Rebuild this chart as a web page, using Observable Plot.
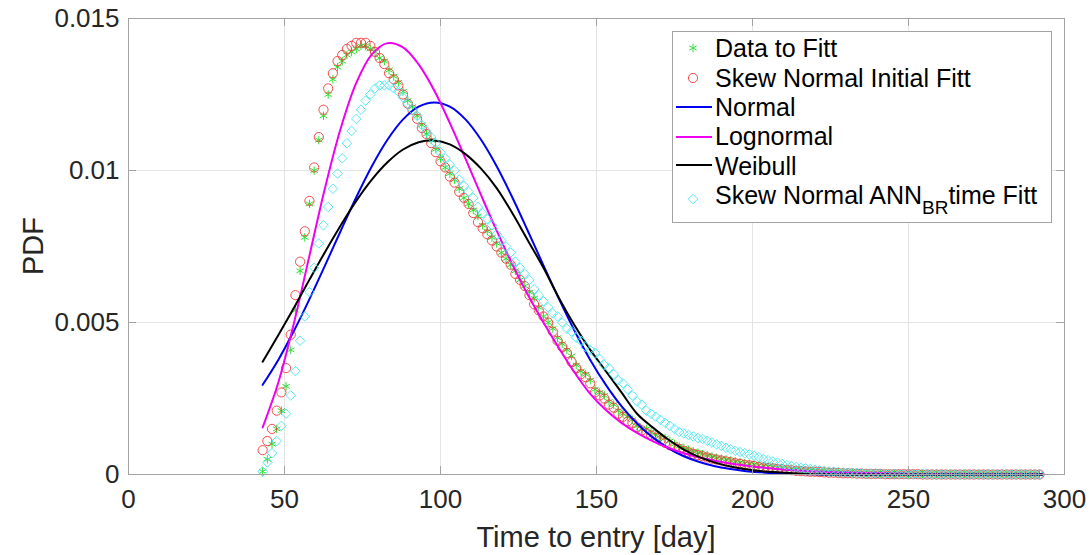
<!DOCTYPE html>
<html><head><meta charset="utf-8">
<script src="https://cdn.jsdelivr.net/npm/d3@7"></script>
<script src="https://cdn.jsdelivr.net/npm/@observablehq/plot@0.6"></script>
<style>
html,body{margin:0;padding:0;background:#fff;}
#chart svg{display:block;}
</style></head><body><div id="chart"></div>
<script>
// ---- data ----
const markerDays = [
43,44.5,46,47.5,49,50.5,52,53.5,55,56.5,
58,59.5,61,62.5,64,65.5,67,68.5,70,71.5,
73,74.5,76,77.5,79,80.5,82,83.5,85,86.5,
88,89.5,91,92.5,94,95.5,97,98.5,100,101.5,
103,104.5,106,107.5,109,110.5,112,113.5,115,116.5,
118,119.5,121,122.5,124,125.5,127,128.5,130,131.5,
133,134.5,136,137.5,139,140.5,142,143.5,145,146.5,
148,149.5,151,152.5,154,155.5,157,158.5,160,161.5,
163,164.5,166,167.5,169,170.5,172,173.5,175,176.5,
178,179.5,181,182.5,184,185.5,187,188.5,190,191.5,
193,194.5,196,197.5,199,200.5,202,203.5,205,206.5,
208,209.5,211,212.5,214,215.5,217,218.5,220,221.5,
223,224.5,226,227.5,229,230.5,232,233.5,235,236.5,
238,239.5,241,242.5,244,245.5,247,248.5,250,251.5,
253,254.5,256,257.5,259,260.5,262,263.5,265,266.5,
268,269.5,271,272.5,274,275.5,277,278.5,280,281.5,
283,284.5,286,287.5,289,290.5,292];

const dataFitt = [
0.0001,0.0005,0.0010,0.0015,0.0021,0.0029,0.0041,0.0054,0.0067,0.0078,
0.0089,0.0100,0.0110,0.0118,0.0125,0.0130,0.0134,0.0136,0.0138,0.0139,
0.0140,0.0141,0.0141,0.0140,0.0139,0.0137,0.0136,0.0133,0.0131,0.0129,
0.0126,0.0123,0.0121,0.0118,0.0115,0.0112,0.0110,0.0107,0.0104,0.0101,
0.0099,0.0097,0.0094,0.0091,0.0089,0.0087,0.0085,0.0082,0.0080,0.0078,
0.0076,0.0073,0.0071,0.0069,0.0067,0.0064,0.0062,0.0060,0.0058,0.0055,
0.0052,0.0050,0.0048,0.0045,0.0043,0.0041,0.0039,0.0036,0.0034,0.0033,
0.0031,0.0028,0.0027,0.0026,0.0024,0.0023,0.0021,0.0020,0.0019,0.0018,
0.0016,0.0015,0.0015,0.0014,0.0013,0.0012,0.0012,0.0011,0.0010,0.00093,
0.00087,0.00081,0.00076,0.00072,0.00067,0.00063,0.00059,0.00055,0.00052,0.00049,
0.00046,0.00043,0.00040,0.00037,0.00035,0.00033,0.00030,0.00028,0.00026,0.00024,
0.00022,0.00021,0.00019,0.00018,0.00016,0.00015,0.00013,0.00012,0.00011,0.00010,
0.00009,0.00008,0.00008,0.00007,0.00006,0.00005,0.00005,0.00005,0.00004,0.00004,
0.00004,0.00003,0.00003,0.00003,0.00002,0.00002,0.00002,0.00002,0.00002,0.00002,
0.00002,0.00002,0.00002,0.00002,0.00002,0.00001,0.00001,0.00001,0.00001,0.00001,
0.00001,0.00001,0.00001,0.00001,0.00001,0.00001,0.00001,0.00001,0.00001,0.00001,
0.00001,0.00001,0.00001,0.00001,0.00001,0.00001,0.00001];

const skewNormalInitial = [
0.0008,0.0011,0.0015,0.0021,0.0027,0.0035,0.0046,0.0059,0.0070,0.0080,
0.0090,0.0101,0.0111,0.0120,0.0127,0.0132,0.0136,0.0138,0.0140,0.0141,
0.0142,0.0142,0.0142,0.0141,0.0139,0.0137,0.0135,0.0132,0.0130,0.0128,
0.0125,0.0122,0.0120,0.0117,0.0114,0.0112,0.0109,0.0106,0.0103,0.0101,
0.0098,0.0096,0.0093,0.0091,0.0089,0.0086,0.0083,0.0081,0.0079,0.0077,
0.0075,0.0073,0.0071,0.0069,0.0066,0.0064,0.0062,0.0059,0.0056,0.0054,
0.0052,0.0050,0.0047,0.0044,0.0042,0.0040,0.0037,0.0035,0.0033,0.0032,
0.0030,0.0027,0.0026,0.0025,0.0023,0.0022,0.0020,0.0019,0.00175,0.0017,
0.00155,0.00145,0.00136,0.00128,0.0012,0.00112,0.00104,0.00096,0.0009,0.00084,
0.00078,0.00073,0.00068,0.00064,0.0006,0.00056,0.00052,0.00049,0.00046,0.00043,
0.0004,0.00037,0.00035,0.00032,0.0003,0.00028,0.00025,0.00023,0.00021,0.0002,
0.00018,0.00017,0.00015,0.00014,0.00012,0.00011,0.0001,0.00009,0.00009,0.00008,
0.00007,0.00006,0.00006,0.00005,0.00004,0.00004,0.00004,0.00003,0.00003,0.00002,
0.00002,0.00002,0.00002,0.00001,0.00001,0.00001,0.00001,0.00001,0.00001,0.00001,
0.00001,0,0,0,0,0,0,0,0,0,
0,0,0,0,0,0,0,0,0,0,
0,0,0,0,0,0,0];

const skewNormalANN = [
0.0001,0.0004,0.0007,0.0011,0.0016,0.0020,0.0026,0.0034,0.0044,0.0052,
0.0060,0.0068,0.0076,0.0082,0.0088,0.0094,0.0099,0.0104,0.0109,0.0113,
0.0117,0.0120,0.0123,0.0125,0.0127,0.0128,0.0128,0.0128,0.0127,0.0126,
0.0124,0.0122,0.0120,0.0118,0.0115,0.0113,0.0111,0.0109,0.0106,0.0104,
0.0102,0.0100,0.0097,0.0095,0.0093,0.0091,0.0088,0.0086,0.0084,0.0082,
0.0079,0.0077,0.0075,0.0073,0.0070,0.0068,0.0066,0.0064,0.0061,0.0059,
0.0057,0.0055,0.0053,0.0052,0.0050,0.0048,0.0047,0.0045,0.0044,0.0042,
0.0041,0.0040,0.0038,0.0036,0.0035,0.0033,0.0031,0.0030,0.0028,0.0026,
0.0024,0.0023,0.0021,0.0020,0.0019,0.0018,0.0017,0.0016,0.0015,0.0014,
0.00135,0.0013,0.00125,0.0012,0.00117,0.00111,0.00105,0.00099,0.00094,0.00088,
0.00083,0.00078,0.00074,0.0007,0.00066,0.00062,0.00057,0.00051,0.00047,0.00043,
0.00039,0.00035,0.00031,0.00028,0.00025,0.00022,0.0002,0.00018,0.00016,0.00014,
0.00012,0.0001,0.00009,0.00008,0.00007,0.00006,0.00006,0.00005,0.00004,0.00003,
0.00003,0.00003,0.00002,0.00002,0.00002,0.00002,0.00001,0.00001,0.00001,0.00001,
0.00001,0.00001,0.00001,0,0,0,0,0,0,0,
0,0,0,0,0,0,0,0,0,0,
0,0,0,0,0,0,0];

const lineDays = [
43,48,53,58,63,68,73,78,83,88,
93,98,103,108,113,118,123,128,133,138,
143,148,153,158,163,168,173,178,183,188,
193,198,203,208,213,218,223,228,233,238,
243,248,253,258,263,268,273,278,283,288,
293];

const normalPdf = [
0.00295,0.00377,0.00472,0.00577,0.00688,0.00801,0.00912,0.01014,0.01101,0.01168,
0.01210,0.01224,0.01210,0.01168,0.01101,0.01014,0.00912,0.00801,0.00688,0.00577,
0.00472,0.00377,0.00295,0.00225,0.00168,0.00122,0.00087,0.00060,0.00041,0.00027,
0.00018,0.00011,0.00007,0.00004,0.00002,0.00001,0,0,0,0,
0,0,0,0,0,0,0,0,0,0,
0];

const lognormalPdf = [
0.00155,0.00302,0.00497,0.00720,0.00943,0.01138,0.01288,0.01382,0.01419,0.01405,
0.01349,0.01263,0.01156,0.01039,0.00919,0.00802,0.00692,0.00591,0.00500,0.00415,
0.00335,0.00265,0.00212,0.00170,0.00137,0.00110,0.00088,0.00070,0.00056,0.00045,
0.00036,0.00029,0.00023,0.00018,0.00014,0.00011,0.00009,0.00007,0.00006,0.00005,
0.00004,0.00003,0.00002,0.00002,0.00002,0.00001,0.00001,0.00001,0.00001,0.00001,
0.00001];

const weibullPdf = [
0.00371,0.00458,0.00548,0.00641,0.00732,0.00819,0.00900,0.00970,0.01027,0.01069,
0.01093,0.01099,0.01086,0.01054,0.01006,0.00942,0.00860,0.00770,0.00680,0.00580,
0.00490,0.00410,0.00340,0.00270,0.00200,0.00155,0.00115,0.00082,0.00057,0.00039,
0.00026,0.00017,0.00011,0.00007,0.00004,0.00002,0.00001,0,0,0,
0,0,0,0,0,0,0,0,0,0,
0];

const xTicks = [0, 50, 100, 150, 200, 250, 300];
const yTicks = [0, 0.005, 0.01, 0.015];
const yTickLabels = ["0", "0.005", "0.01", "0.015"];
const xLabel = "Time to entry [day]";
const yLabel = "PDF";
const legendNames = ["Data to Fitt", "Skew Normal Initial Fitt", "Normal", "Lognormal", "Weibull"];

// ---- colours ----
const cGreen = "#2fe02f", cRed = "#f23a3a", cBlue = "#0000f0", cMag = "#f000f0", cBlack = "#000000", cCyan = "#45e6f0";
const frameColor = "#a3a3a3", gridColor = "#e4e4e4", textColor = "#262626";
const font = "'Liberation Sans', Arial, Helvetica, sans-serif";

const plot = Plot.plot({
  width: 1090, height: 555,
  marginTop: 18, marginRight: 26, marginBottom: 81, marginLeft: 128,
  style: {fontFamily: font, fontSize: "26px", color: textColor, background: "#fff", overflow: "visible"},
  x: {domain: [0, 300], label: null},
  y: {domain: [0, 0.015], label: null},
  marks: [
    Plot.gridX(xTicks, {stroke: gridColor, strokeOpacity: 1}),
    Plot.gridY(yTicks, {stroke: gridColor, strokeOpacity: 1}),
    Plot.axisX(xTicks, {tickSize: 0, tickPadding: 15, fill: textColor, fontSize: 26}),
    Plot.axisY(yTicks, {tickSize: 0, tickPadding: 9, fill: textColor, fontSize: 26,
      tickFormat: d => yTickLabels[yTicks.indexOf(d)]}),
    Plot.dot(markerDays, {x: markerDays, y: dataFitt, symbol: "asterisk", r: 4, stroke: cGreen, strokeWidth: 1}),
    Plot.dot(markerDays, {x: markerDays, y: skewNormalInitial, symbol: "circle", r: 4.6, fill: "none", stroke: cRed, strokeWidth: 0.9}),
    Plot.line(lineDays, {x: lineDays, y: normalPdf, stroke: cBlue, strokeWidth: 2, curve: "catmull-rom"}),
    Plot.line(lineDays, {x: lineDays, y: lognormalPdf, stroke: cMag, strokeWidth: 2, curve: "catmull-rom"}),
    Plot.line(lineDays, {x: lineDays, y: weibullPdf, stroke: cBlack, strokeWidth: 2, curve: "catmull-rom"}),
    Plot.dot(markerDays, {x: markerDays, y: skewNormalANN, symbol: "diamond2", r: 4.3, fill: "none", stroke: cCyan, strokeWidth: 0.9}),
    Plot.frame({stroke: frameColor})
  ]
});
document.getElementById("chart").appendChild(plot);

// ---- inward ticks, axis titles, legend ----
const svg = d3.select(plot);
const sx = plot.scale("x"), sy = plot.scale("y");
const [yBottom, yTop] = sy.range;
const [xLeft, xRight] = sx.range;
const tg = svg.append("g").attr("stroke", frameColor).attr("stroke-width", 1);
xTicks.forEach(v => {
  const px = Math.round(sx.apply(v)) + 0.5;
  tg.append("line").attr("x1", px).attr("x2", px).attr("y1", yBottom).attr("y2", yBottom - 8);
  tg.append("line").attr("x1", px).attr("x2", px).attr("y1", yTop).attr("y2", yTop + 8);
});
yTicks.forEach(v => {
  const py = Math.round(sy.apply(v)) + 0.5;
  tg.append("line").attr("x1", xLeft).attr("x2", xLeft + 8).attr("y1", py).attr("y2", py);
  tg.append("line").attr("x1", xRight).attr("x2", xRight - 8).attr("y1", py).attr("y2", py);
});

svg.append("text").text(xLabel)
  .attr("x", (xLeft + xRight) / 2).attr("y", 547)
  .attr("text-anchor", "middle").attr("font-size", 29).attr("fill", textColor).attr("font-family", font);
svg.append("text").text(yLabel)
  .attr("transform", `translate(43,${(yTop + yBottom) / 2}) rotate(-90)`)
  .attr("text-anchor", "middle").attr("font-size", 29).attr("fill", textColor).attr("font-family", font);

const leg = svg.append("g").attr("font-family", font).attr("font-size", 25).attr("fill", "#000")
  .attr("text-anchor", "start");
leg.append("rect").attr("x", 672.5).attr("y", 31.5).attr("width", 379).attr("height", 191)
  .attr("fill", "#fff").attr("stroke", frameColor).attr("stroke-width", 1);
const baselines = [57, 87, 116, 145, 175, 204];
const centers = [48, 78, 107, 137, 165, 199];
const textX = 715, symX = 693;
legendNames.forEach((name, i) => {
  leg.append("text").attr("x", textX).attr("y", baselines[i]).attr("text-anchor", "start").text(name);
});
leg.append("path").attr("d", d3.symbol(d3.symbolAsterisk, Math.PI * 16)())
  .attr("transform", `translate(${symX},${centers[0]})`).attr("fill", "none").attr("stroke", cGreen).attr("stroke-width", 1);
leg.append("path").attr("d", d3.symbol(d3.symbolCircle, Math.PI * 4.6 * 4.6)())
  .attr("transform", `translate(${symX},${centers[1]})`).attr("fill", "none").attr("stroke", cRed).attr("stroke-width", 0.9);
[[cBlue, 2], [cMag, 3], [cBlack, 4]].forEach(([c, i]) => {
  leg.append("line").attr("x1", 676).attr("x2", 712).attr("y1", centers[i]).attr("y2", centers[i])
    .attr("stroke", c).attr("stroke-width", 2);
});
leg.append("path").attr("d", d3.symbol(d3.symbolDiamond2, Math.PI * 4.3 * 4.3)())
  .attr("transform", `translate(${symX},${centers[5]})`).attr("fill", "none").attr("stroke", cCyan).attr("stroke-width", 0.9);
const last = leg.append("text").attr("x", textX).attr("y", baselines[5]).attr("text-anchor", "start");
last.append("tspan").text("Skew Normal ANN");
last.append("tspan").attr("font-size", 19).attr("dy", 10).text("BR");
last.append("tspan").attr("dy", -10).text("time Fitt");
</script>
</body></html>
